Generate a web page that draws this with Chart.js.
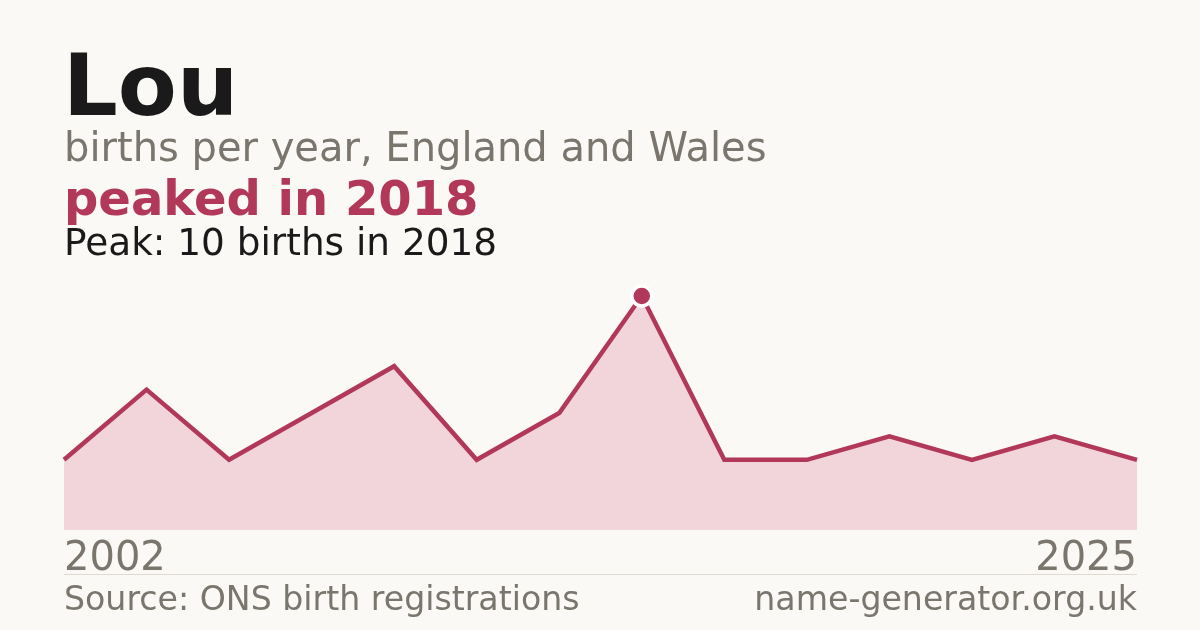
<!DOCTYPE html>
<html>
<head>
<meta charset="utf-8">
<script src="https://cdn.jsdelivr.net/npm/chart.js@4.4.1/dist/chart.umd.min.js"></script>
<style>
  html, body { margin: 0; padding: 0; background: #faf9f5; }
  #wrap { width: 1200px; height: 630px; position: relative; }
</style>
</head>
<body>
<div id="wrap"><canvas id="chart" width="1200" height="630"></canvas></div>
<script>
var years = ["2002", "2004", "2005", "2007", "2009", "2011", "2015", "2018", "2019", "2020", "2021", "2022", "2023", "2025"];
var births = [3, 6, 3, 5, 7, 3, 5, 10, 3, 3, 4, 3, 4, 3];
var peakYear = "2018";

var peakIndex = years.indexOf(peakYear);
var red = "#b2385a";
var grey = "#7a756d";

// titles, axis end labels and footer drawn straight onto the canvas
var textPlugin = {
  id: "texts",
  beforeDraw: function (chart) {
    var c = chart.ctx;
    c.save();
    c.fillStyle = "#faf9f5";
    c.fillRect(0, 0, chart.width, chart.height);
    c.restore();
  },
  afterDraw: function (chart) {
    var c = chart.ctx;
    var area = chart.chartArea;
    c.save();
    c.textBaseline = "alphabetic";
    c.textAlign = "left";

    c.fillStyle = "#1a1a1a";
    c.font = "bold 86px 'DejaVu Sans'";
    c.fillText("Lou", 63, 115);

    c.fillStyle = grey;
    c.font = "40px 'DejaVu Sans'";
    c.fillText("births per year, England and Wales", 64, 161);

    c.fillStyle = red;
    c.font = "bold 48px 'DejaVu Sans'";
    c.fillText("peaked in " + peakYear, 64, 215);

    c.fillStyle = "#1a1a1a";
    c.font = "37.4px 'DejaVu Sans'";
    c.fillText("Peak: " + births[peakIndex] + " births in " + peakYear, 64, 255);

    c.fillStyle = grey;
    c.font = "40px 'DejaVu Sans'";
    c.fillText(years[0], area.left, 570);
    c.textAlign = "right";
    c.fillText(years[years.length - 1], area.right, 570);

    c.strokeStyle = "#dedad2";
    c.lineWidth = 1;
    c.beginPath();
    c.moveTo(area.left, 574.5);
    c.lineTo(area.right, 574.5);
    c.stroke();

    c.font = "33.2px 'DejaVu Sans'";
    c.textAlign = "left";
    c.fillText("Source: ONS birth registrations", 64, 610);
    c.textAlign = "right";
    c.fillText("name-generator.org.uk", area.right, 610);
    c.restore();
  },
};

var ctx = document.getElementById("chart").getContext("2d");

var chart = new Chart(ctx, {
  type: "line",
  data: {
    labels: years,
    datasets: [
      {
        data: births,
        borderColor: red,
        borderWidth: 4.5,
        backgroundColor: "#f1d5da",
        fill: "origin",
        tension: 0,
        clip: false,
        pointRadius: births.map(function (v, i) { return i === peakIndex ? 10 : 0; }),
        pointHoverRadius: 0,
        pointBackgroundColor: red,
        pointBorderColor: "#ffffff",
        pointBorderWidth: 3.5,
      },
    ],
  },
  options: {
    responsive: false,
    animation: false,
    layout: { padding: { left: 64, right: 63, top: 296, bottom: 100 } },
    plugins: { legend: { display: false }, tooltip: { enabled: false } },
    scales: {
      x: { display: false, offset: false },
      y: { display: false, min: 0, max: 10 },
    },
  },
  plugins: [textPlugin],
});
</script>
</body>
</html>
